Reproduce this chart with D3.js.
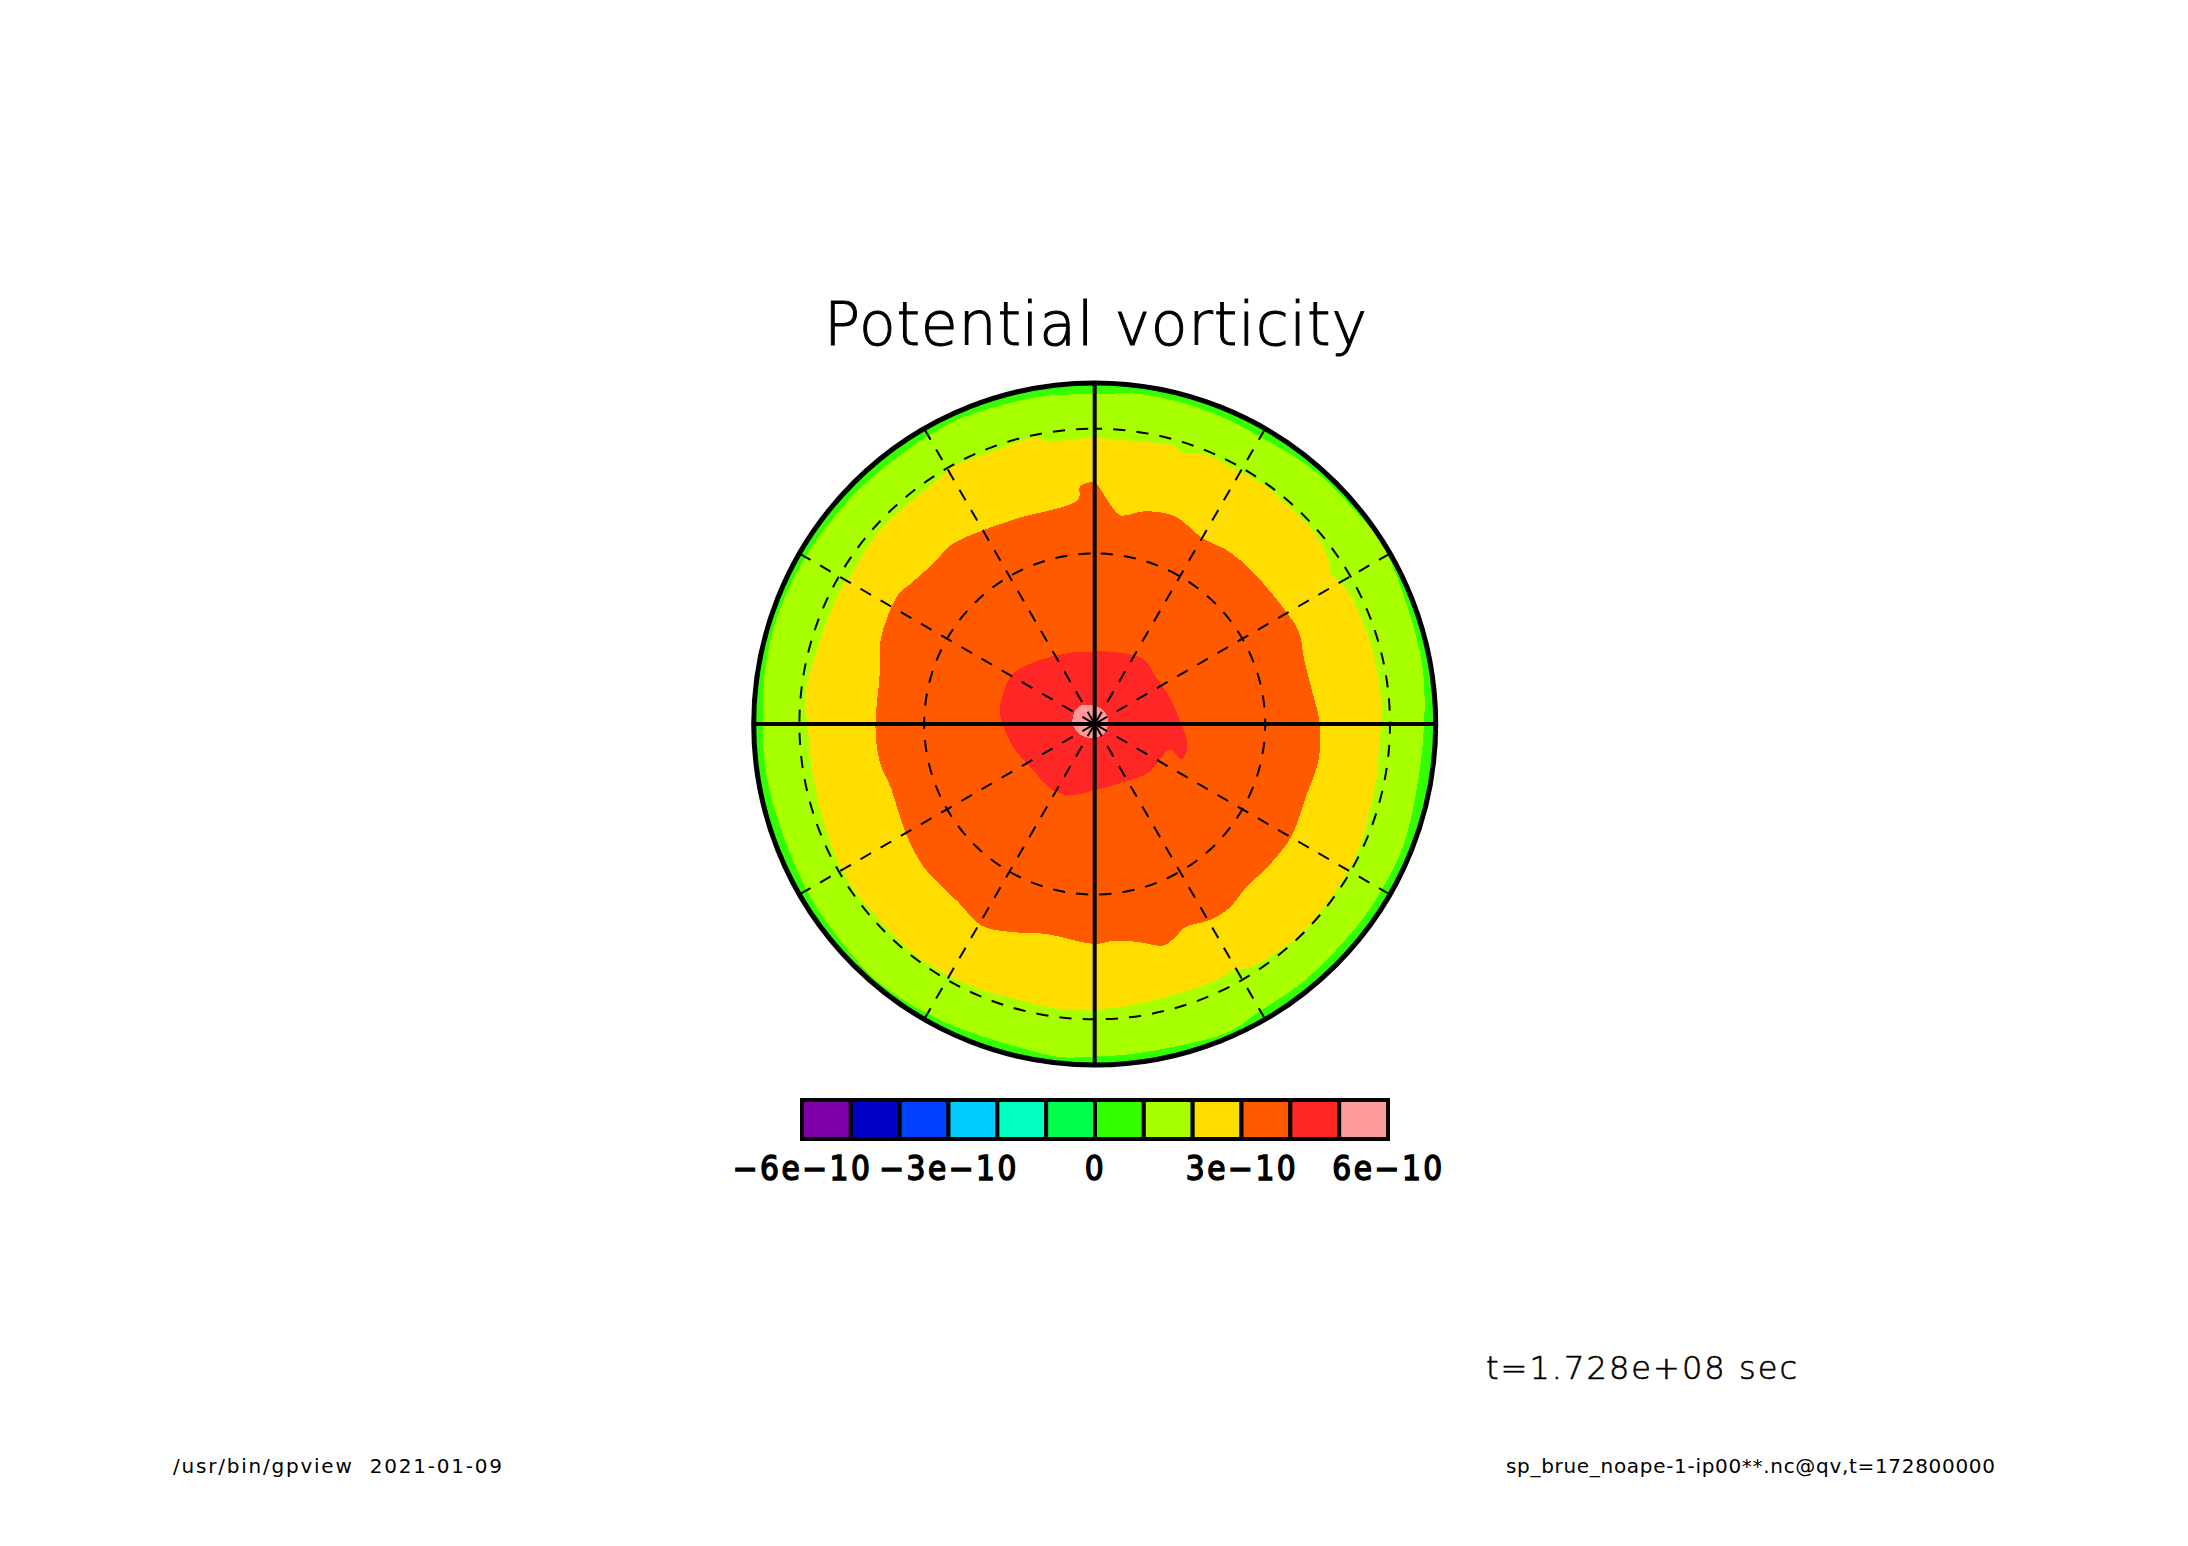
<!DOCTYPE html>
<html>
<head>
<meta charset="utf-8">
<title>Potential vorticity</title>
<script src="https://cdn.jsdelivr.net/npm/d3@7"></script>
<style>
  html, body { margin: 0; padding: 0; background: #fff; }
  svg { display: block; }
  text { font-family: "DejaVu Sans", sans-serif; fill: #000; white-space: pre; }
</style>
</head>
<body>
<svg width="2188" height="1546"></svg>
<script>
// colour bar
const levels = [-6e-10, -5e-10, -4e-10, -3e-10, -2e-10, -1e-10, 0, 1e-10, 2e-10, 3e-10, 4e-10, 5e-10, 6e-10];
const colors = ["#7f00a8", "#0000c8", "#0040ff", "#00ccff", "#00ffc0", "#00ff48",
                "#33ff00", "#a8ff00", "#ffdd00", "#ff5a00", "#ff2626", "#ff9a9a"];
const barTicks = [-6e-10, -3e-10, 0, 3e-10, 6e-10];
const barTickLabels = ["\u22126e\u221210", "\u22123e\u221210", "0", "3e\u221210", "6e\u221210"];

// contours: longitude (deg clockwise from top) and radius (0 pole, 1 rim)
const lon1e10 = [0, 8.1, 20, 30.3, 41, 50.8, 58, 68.5, 79.8, 90, 102.5, 112, 120, 127.7, 140.5, 150.4, 156.5, 165.4, 173.6, 180,
                 185.7, 192.1, 206.7, 220, 228.5, 238.4, 249.7, 260, 268.1, 270, 278.5, 289, 301.8, 315, 329.3, 336.5, 344.3, 351.4];
const rad1e10 = [.967, .977, .976, .972, .984, .987, .994, .98, .976, .966, .964, .973, .972, .971, .972, .972, .985, .975, .974, .975,
                 .982, .975, .979, .988, .98, .976, .97, .974, .974, .972, .979, .983, .979, .975, .976, .979, .974, .973];

const lon2e10 = [0, 8.1, 16.2, 17.1, 22.3, 29.7, 35.7, 43.6, 49.4, 56.2, 56.9, 60.2, 64, 69, 74.7, 83.5, 90, 94.2, 100.3, 108.4, 115.2, 121, 128.2, 137,
                 147, 150.6, 155.6, 165.5, 173.2, 180, 188, 194.8, 203.7, 211, 218.8, 226.2, 234.1, 241, 249.5, 259.7, 270, 275.7, 281.1, 289.5,
                 298.2, 301.5, 308.1, 313.5, 320.5, 328.3, 330.8, 340.6, 348.2, 350.4];
const rad2e10 = [.839, .838, .848, .837, .854, .853, .858, .854, .853, .832, .82, .831, .84, .84, .844, .843, .84, .836, .842, .847, .857, .859, .861, .862,
                 .847, .83, .832, .827, .832, .837, .842, .839, .848, .854, .858, .853, .857, .855, .846, .84, .842, .853, .847, .841,
                 .843, .837, .845, .849, .846, .854, .861, .853, .857, .841];

const lon3e10 = [0, 3.5, 6.9, 13.3, 21.2, 30, 37.8, 45.9, 55.1, 65.6, 72.5, 81.5, 89.4, 98.7, 109.5, 119.4, 127.9, 137.5, 144, 149.9, 156, 159.3, 162.7, 168.7, 174.6, 180,
                 193.3, 201.8, 209.3, 217.5, 229.6, 238.5, 245, 252.4, 260, 269.3, 282.9, 291, 295.3, 303.3, 307.6, 312, 316.7, 321.4, 330.5, 339.6, 355.8, 356.5, 359.3];
const rad3e10 = [.71, .654, .617, .641, .653, .63, .641, .643, .646, .657, .643, .645, .659, .665, .655, .664, .659, .654, .669, .666, .652, .668, .68, .652, .638, .645,
                 .632, .657, .678, .658, .654, .642, .632, .626, .64, .643, .647, .673, .681, .69, .678, .67, .669, .673, .655, .644, .66, .698, .71];

const lon4e10 = [0, 14.5, 37, 53.6, 71.2, 88.4, 99.9, 105.8, 112.1, 110.7, 108.6, 116, 130.7, 150.7, 180, 199.2, 212, 236.6, 254.4, 276.4, 288.6, 301.9, 319.5, 338.4];
const rad4e10 = [.2125, .218, .238, .226, .234, .251, .274, .281, .276, .258, .233, .219, .214, .192, .194, .221, .229, .228, .248, .28, .283, .281, .247, .223];

const lon5e10 = [0, 45, 90, 135, 180, 225, 270, 315];
const rad5e10 = [.054, .045, .04, .04, .04, .05, .065, .07];

const ringRadii = [0.5, 0.866];
const solidLons = [0, 90, 180, 270];
const dashedLons = [30, 60, 120, 150, 210, 240, 300, 330];

const svg = d3.select("svg");
const cx = 1094.7, cy = 724, R = 341;

const r = d3.scaleLinear().domain([0, 1]).range([0, R]);
const ang = d3.scaleLinear().domain([0, 360]).range([0, 2 * Math.PI]);
const barX = d3.scaleLinear().domain([levels[0], levels[levels.length - 1]]).range([802, 1388]);

const map = svg.append("g").attr("transform", `translate(${cx},${cy})`);

// base band, then each contour on top of it
map.append("circle")
  .attr("r", r(1))
  .attr("fill", colors[6]);

const radial = d3.lineRadial()
  .angle(d => ang(d[0]))
  .radius(d => r(d[1]))
  .curve(d3.curveCatmullRomClosed.alpha(0.5));

const bands = [
  { lon: lon1e10, rad: rad1e10, color: colors[7] },
  { lon: lon2e10, rad: rad2e10, color: colors[8] },
  { lon: lon3e10, rad: rad3e10, color: colors[9] },
  { lon: lon4e10, rad: rad4e10, color: colors[10] },
  { lon: lon5e10, rad: rad5e10, color: colors[11] }
];

map.selectAll(".band")
  .data(bands)
  .join("path")
  .attr("class", "band")
  .attr("fill", d => d.color)
  .attr("shape-rendering", "crispEdges")
  .attr("d", d => radial(d3.zip(d.lon, d.rad)));

// graticule
map.selectAll(".ring")
  .data(ringRadii)
  .join("circle")
  .attr("class", "ring")
  .attr("r", d => r(d))
  .attr("transform", "rotate(-90)")
  .attr("fill", "none")
  .attr("stroke", "#000")
  .attr("stroke-width", 2)
  .attr("stroke-dasharray", "12.2,11.1")
  .attr("stroke-dashoffset", (d, i) => i === 0 ? -6 : 4.7);

const spoke = d => {
  const a = ang(d);
  return `M0,0L${r(1) * Math.sin(a)},${-r(1) * Math.cos(a)}`;
};

map.selectAll(".spoke")
  .data(dashedLons)
  .join("path")
  .attr("class", "spoke")
  .attr("d", spoke)
  .attr("stroke", "#000")
  .attr("stroke-width", 2)
  .attr("stroke-dasharray", "12.2,11.1")
  .attr("stroke-dashoffset", -2);

map.selectAll(".axis-line")
  .data(solidLons)
  .join("path")
  .attr("class", "axis-line")
  .attr("d", spoke)
  .attr("stroke", "#000")
  .attr("stroke-width", 4);

map.append("circle")
  .attr("r", r(1))
  .attr("fill", "none")
  .attr("stroke", "#000")
  .attr("stroke-width", 5);

// colour bar
const bar = svg.append("g");
bar.selectAll("rect")
  .data(colors)
  .join("rect")
  .attr("x", (d, i) => barX(levels[i]))
  .attr("width", (d, i) => barX(levels[i + 1]) - barX(levels[i]))
  .attr("y", 1100)
  .attr("height", 39)
  .attr("fill", d => d)
  .attr("stroke", "#000")
  .attr("stroke-width", 4);

const barAxis = d3.axisBottom(barX)
  .tickValues(barTicks)
  .tickSize(0)
  .tickPadding(0)
  .tickFormat((d, i) => barTickLabels[i]);

const barAxisG = svg.append("g")
  .attr("transform", "translate(0,1150)")
  .call(barAxis);
barAxisG.select(".domain").remove();
barAxisG.selectAll("text")
  .attr("dy", 30)
  .attr("y", 0)
  .style("font-family", '"DejaVu Sans Condensed", "DejaVu Sans", sans-serif')
  .style("font-stretch", "condensed")
  .style("font-size", "33px")
  .style("letter-spacing", "2.5px")
  .attr("stroke", "#000")
  .attr("stroke-width", 1.4);

// labels
function label(txt, x, y, size, width, weight, outline) {
  svg.append("text")
    .attr("x", x)
    .attr("y", y)
    .attr("textLength", width)
    .attr("lengthAdjust", "spacing")
    .attr("stroke", outline ? "#000" : "none")
    .attr("stroke-width", outline || 0)
    .style("font-family", '"DejaVu Sans", sans-serif')
    .style("font-weight", weight)
    .style("font-size", size + "px")
    .text(txt);
}

label("Potential vorticity", 824, 345, 60, 543, 200, 1);
label("t=1.728e+08 sec", 1486, 1379, 32, 311, 200, 0.6);
label("/usr/bin/gpview  2021-01-09", 173, 1473, 20, 329, 400);
label("sp_brue_noape-1-ip00**.nc@qv,t=172800000", 1506, 1473, 20, 489, 400);
</script>
</body>
</html>
